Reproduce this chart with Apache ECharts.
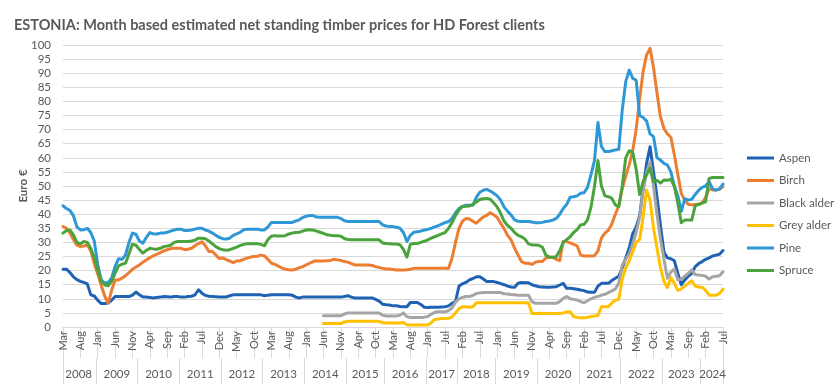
<!DOCTYPE html>
<html><head><meta charset="utf-8">
<script src="https://cdn.jsdelivr.net/npm/echarts@6/dist/echarts.min.js"></script>
<style>html,body{margin:0;padding:0;background:#fff}#c{width:837px;height:387px}</style>
</head><body><div id="c"></div>
<script>
// ---- categories: months from Mar 2008 to Jul 2024, months absent from the source table skipped
const monthNames = ['Jan','Feb','Mar','Apr','May','Jun','Jul','Aug','Sep','Oct','Nov','Dec'];
const skippedMonths = ['2015-08','2017-04','2017-10','2017-11','2018-10','2023-06'];
const categories = [];
for (let y = 2008; y <= 2024; y++) {
  for (let m = 1; m <= 12; m++) {
    if (y === 2008 && m < 3) continue;
    if (y === 2024 && m > 7) continue;
    const key = y + '-' + (m < 10 ? '0' + m : m);
    if (skippedMonths.indexOf(key) >= 0) continue;
    categories.push(key);
  }
}

const seriesNames = ['Aspen','Birch','Black alder','Grey alder','Pine','Spruce'];

const aspen = [
20.5,20.5,19.3,17.8,16.8,16.2,15.8,15.3,11.4,11,
9.5,8.3,8.3,8.5,9.5,10.8,10.8,10.8,10.8,10.8,
11.3,12.4,11.4,10.6,10.6,10.5,10.3,10.5,10.6,10.8,
10.7,10.6,10.8,10.8,10.6,10.6,10.8,10.9,11.4,13.2,
12,11.2,10.9,10.8,10.7,10.6,10.6,10.6,11.1,11.4,
11.4,11.4,11.4,11.4,11.4,11.4,11.4,11.4,11.1,11.3,
11.4,11.4,11.4,11.4,11.4,11.4,11.3,10.6,10.3,10.6,
10.6,10.6,10.6,10.6,10.6,10.6,10.6,10.6,10.6,10.6,
10.6,10.8,11.1,10.6,10.3,10.3,10.3,10.3,10.3,10.3,
9.8,9.2,8.1,7.9,7.8,7.5,7.5,7.3,7.2,7.2,
8.7,8.7,8.7,8,7,6.9,7,7,7,7.1,
7.2,7.5,8.4,9,14.5,15.3,15.8,16.7,17.2,17.8,
17.8,17,16.1,16.1,16.1,15.8,15.4,15,14.5,14.2,
14.1,15.5,15.8,15.7,15.7,15,14.6,14.3,14.2,14.1,
14.1,14.2,14.3,14.9,15.5,13.7,13.7,13.6,13.4,13.1,
12.9,12.4,12.3,12.3,14.5,15.5,15.5,15.5,16.5,17.3,
18,21,24.5,28,33,35.5,39.5,49,58,63.9,
55,46,36,26.5,24.5,24.2,23.5,19,15,16.7,
18,19,21.4,22.5,23.2,24,24.5,25.2,25.5,25.8,27.1
];

const birch = [
35.6,35,33.3,31,29,28.5,28.7,29.1,27,22.5,
18.8,14.8,11,8.5,13,16.7,16.7,17.3,18.2,19.3,
20.5,21.3,22,23,23.8,24.6,25.2,25.8,26.4,27,
27.4,27.8,27.9,27.9,27.9,27.4,27.6,27.9,28.8,29.6,
30.2,28.8,26.8,26.8,25.5,24.3,24.5,23.9,23.4,22.8,
23.4,23.5,24,24.4,24.8,25,25.1,25.5,25.2,24,
22.6,22.2,21.6,20.9,20.5,20.3,20.2,20.5,21,21.4,
22,22.6,23.2,23.5,23.4,23.4,23.5,23.6,24,23.8,
23.6,23.2,23,22.5,22,22,22,22,22,21.8,
21.4,21.1,20.8,20.6,20.6,20.4,20.2,20.2,20.2,20.3,
20.5,20.8,20.8,20.8,20.8,20.8,20.8,20.8,20.8,20.8,
20.8,20.8,24.5,30,35,37.5,38.5,38.3,37.5,36.8,
38,39,39.6,40.5,39.8,38.8,36.8,34.8,32.5,30.9,
28,25.5,23.2,22.6,22.6,22.2,23,23.2,23.2,24.5,
24.7,24.7,24,23.5,30.3,30.3,29.8,29.3,28.8,25.5,
25.2,25.2,25.2,25.3,27,31.5,33.3,34.3,36.5,40,
43,49,53.5,57.5,62.5,70,81,90.5,96.5,98.8,
92,83,74.5,70.4,68.5,67.3,61,54,47.4,45,
43.5,43.3,43.4,43.5,43.9,46,49,48.6,48.6,48.8,49.8
];

const blackAlder = [
null,null,null,null,null,null,null,null,null,null,
null,null,null,null,null,null,null,null,null,null,
null,null,null,null,null,null,null,null,null,null,
null,null,null,null,null,null,null,null,null,null,
null,null,null,null,null,null,null,null,null,null,
null,null,null,null,null,null,null,null,null,null,
null,null,null,null,null,null,null,null,null,null,
null,null,null,null,null,4,4,4,4,4,
4,4.6,5,5,5,5,5,5,5,5,
5,5,4.2,3.9,3.9,3.9,3.9,4.2,5,3.6,
3.4,3.4,3.4,3.4,3.5,3.7,4.5,5.2,5.4,5.4,
5.4,5.8,6.8,8.8,10,10.5,10.8,10.8,11.2,11.9,
12.1,12.2,12.2,12.2,12.2,12.2,12.2,11.8,11.7,11.5,
11.4,11.3,11.3,11.3,11.3,9,8.4,8.4,8.4,8.4,
8.4,8.4,8.4,9,10.2,10.8,10,9.8,9.6,9,
8.6,9.3,10,10.5,10.8,11.3,11.6,12.2,12.8,13.5,
15.5,22,24,26,29.5,33.5,39,48,55,58.5,
50,40,31,24,17.3,19.5,20.5,16.7,17,18,
19,20.3,18.6,18.4,18.3,18,17,17.8,18,18.2,19.6
];

const greyAlder = [
null,null,null,null,null,null,null,null,null,null,
null,null,null,null,null,null,null,null,null,null,
null,null,null,null,null,null,null,null,null,null,
null,null,null,null,null,null,null,null,null,null,
null,null,null,null,null,null,null,null,null,null,
null,null,null,null,null,null,null,null,null,null,
null,null,null,null,null,null,null,null,null,null,
null,null,null,null,null,1.2,1.2,1.2,1.2,1.2,
1.2,1.8,2,2,2,2,2,2,2,2,
2,2,1.5,1.4,1.4,1.4,1.4,1.4,1.6,0.8,
0.7,0.7,0.7,0.7,0.7,0.7,1.5,2.7,2.8,3,
3,3.1,3.5,5,6.5,7.2,7.2,7,7.2,8.6,
8.6,8.6,8.6,8.6,8.6,8.6,8.6,8.6,8.6,8.6,
8.6,8.6,8.6,8.6,8.6,4.8,4.8,4.8,4.8,4.8,
4.8,4.8,4.8,4.8,5,5.3,5.4,3.7,3.4,3.3,
3.3,3.4,3.7,3.9,4.1,7.2,7.2,7.2,8.5,9.5,
9.8,17,21,23.5,26.5,30,31,39,48.6,45,
35,28,21,16.2,14,17.5,15.5,13,13.5,14.5,
15.5,16.4,14.5,14.2,14.1,13,11.3,11.3,11.3,11.9,13.4
];

const pine = [
43,42,41.3,39.5,35.5,34.4,34.5,35,33.5,30.5,
22,16.7,15.6,15.8,17.3,21.5,24.2,24,25.6,30,
33.3,32.9,30.5,29.7,31.8,33.5,33,33,33.3,33.3,
33.6,34,34.4,34.7,34.7,34.2,34.2,34.4,34.7,35,
35,34.4,34,33.3,32.5,31.8,31.3,31.2,31.5,32.5,
33,33.6,34.5,34.7,34.7,34.7,34.7,34.4,34.4,35.5,
37.1,37.1,37.1,37.1,37.1,37.1,37.1,37.6,38,38.8,
39.3,39.5,39.5,39,38.9,38.9,38.9,38.9,38.9,38.9,
38.5,37.7,37.4,37.4,37.4,37.4,37.4,37.4,37.4,37.4,
37.4,37.4,36.2,35.8,35.6,35.6,35.4,35,33.5,30.3,
32.5,33.6,33.8,34,34.4,34.6,35,35.5,35.9,36.5,
37,37.4,38.5,40.5,42,42.8,43.2,43.2,43.2,46,
47.8,48.5,48.8,48.2,47.4,46.5,45,42.5,41,39.7,
38,37.5,37.4,37.4,37.4,37.2,37,37,37.1,37.4,
37.6,37.9,38.5,40,42,43.5,46,46.2,46.5,47.4,
47.6,49.5,54,59,72.5,64,62.2,62.2,62.5,62.8,
63,77,87,91.1,88.2,87.5,75,74.3,73,68.5,
67.5,60,59.2,58,57.4,55,50,46.5,41,45.5,
45,45.3,47,48.5,49.5,50,51.5,49,48.5,49,50.7
];

const spruce = [
33.3,34.2,34.4,32.7,30,29.5,30.3,30,27.9,24.5,
20.3,16.2,15,14.6,16.2,19.1,21.7,22.3,22.6,26,
29.4,29,27.5,26.2,27.2,27.9,27.7,27.6,27.9,28.5,
28.7,29,30,30.3,30.3,30.3,30.3,30.5,30.8,31.5,
31.5,31.3,30.5,29.5,28.5,27.8,27.4,27.2,27.4,27.9,
28.3,28.9,29.3,29.5,29.5,29.5,29.5,29.3,28.8,31,
32.2,32.4,32.3,32.3,32.4,33,33.3,33.5,33.6,34,
34.4,34.5,34.4,34,33.6,33.2,32.7,32.5,32.4,32.4,
32.2,31.4,31,30.9,30.9,30.9,30.9,30.9,30.9,30.9,
30.9,30.9,29.8,29.6,29.5,29.4,29.4,29.2,27.5,24.8,
29.3,29.6,29.6,30,30.4,30.9,31.5,32,32.5,33,
33.5,35,37,39.5,41.5,42.7,42.8,42.9,43.5,44.3,
45.2,45.5,45.6,45.3,44,42.5,40.3,37.5,36,35,
33.5,32.5,32,31.2,29.5,29.1,29.1,29,28.3,25.5,
24.8,24.7,25,27,30,31,32,33.5,34.5,36.2,
36.4,38,42.5,49.8,59,50,46.5,46.2,45.6,43.3,
42.7,50,60,62.5,62,56,47,51.5,54,56.3,
51.5,52,51,52.1,52,52.4,49.8,43.9,37,37.9,
37.9,37.9,43,43.5,44,44.4,52.7,53,53,53,53
];

const seriesColors = ['#1f62b3','#ed7d31','#a5a5a5','#ffc000','#2e97d6','#4aa33c'];
const seriesData = [aspen, birch, blackAlder, greyAlder, pine, spruce];

// year groups for the second-level axis labels
const yearGroups = [];
categories.forEach(function (c, i) {
  const y = c.slice(0, 4);
  const last = yearGroups[yearGroups.length - 1];
  if (!last || last.year !== y) yearGroups.push({ year: y, first: i, last: i });
  else last.last = i;
});
const yearCenters = yearGroups.map(g => (g.first + g.last) / 2);
const yearLabelAt = {};
yearGroups.forEach(g => { yearLabelAt[((g.first + g.last) / 2).toFixed(1)] = g.year; });
const yearBounds = [0].concat(yearGroups.slice(1).map(g => g.first - 0.5)).concat([categories.length - 1]);

const FONT = 'Lato, "Open Sans", sans-serif';
const TXT = '#595959';
const GRID = '#d9d9d9';

const chart = echarts.init(document.getElementById('c'), null, { renderer: 'canvas' });
chart.setOption({
  animation: false,
  backgroundColor: '#ffffff',
  textStyle: { fontFamily: FONT },
  title: {
    text: 'ESTONIA: Month based estimated net standing timber prices for HD Forest clients',
    left: 9, top: 13,
    textStyle: { fontFamily: FONT, fontSize: 14.5, fontWeight: 'bold', color: TXT }
  },
  legend: {
    data: seriesNames,
    orient: 'vertical',
    left: 742, top: 146,
    icon: 'rect', itemWidth: 27, itemHeight: 3, itemGap: 8.5,
    textStyle: { fontFamily: FONT, fontSize: 11.5, color: TXT, lineHeight: 14 }
  },
  grid: { left: 63, right: 114, top: 45, bottom: 60, containLabel: false },
  xAxis: [{
    type: 'category',
    data: categories,
    boundaryGap: false,
    axisLine: { lineStyle: { color: GRID, width: 1 } },
    axisTick: { show: true, interval: 4, length: 31, lineStyle: { color: GRID } },
    axisLabel: {
      interval: 4, rotate: 90, margin: 4,
      fontFamily: FONT, fontSize: 11, color: TXT,
      formatter: v => monthNames[parseInt(v.slice(5), 10) - 1]
    },
    splitLine: { show: false }
  }, {
    type: 'value',
    min: 0, max: categories.length - 1,
    position: 'bottom', offset: 31,
    axisLine: { show: false },
    axisTick: { show: true, customValues: yearBounds, length: 26, lineStyle: { color: GRID } },
    axisLabel: {
      customValues: yearCenters, margin: 10,
      fontFamily: FONT, fontSize: 11.5, color: TXT,
      formatter: v => yearLabelAt[Number(v).toFixed(1)] || ''
    },
    splitLine: { show: false }
  }],
  yAxis: {
    type: 'value', min: 0, max: 100, interval: 5,
    name: 'Euro €', nameLocation: 'middle', nameGap: 34, nameMoveOverlap: false,
    nameTextStyle: { fontFamily: FONT, fontSize: 11.5, fontWeight: 'bold', color: TXT },
    axisLine: { show: false }, axisTick: { show: false },
    axisLabel: { margin: 12, fontFamily: FONT, fontSize: 11.5, color: TXT },
    splitLine: { lineStyle: { color: GRID, width: 1 } }
  },
  series: seriesNames.map((n, k) => ({
    name: n, type: 'line', xAxisIndex: 0,
    data: seriesData[k],
    showSymbol: false, symbol: 'none',
    connectNulls: false,
    color: seriesColors[k],
    lineStyle: { width: 3, color: seriesColors[k], join: 'round', cap: 'round' },
    emphasis: { disabled: true }
  }))
});
</script></body></html>
